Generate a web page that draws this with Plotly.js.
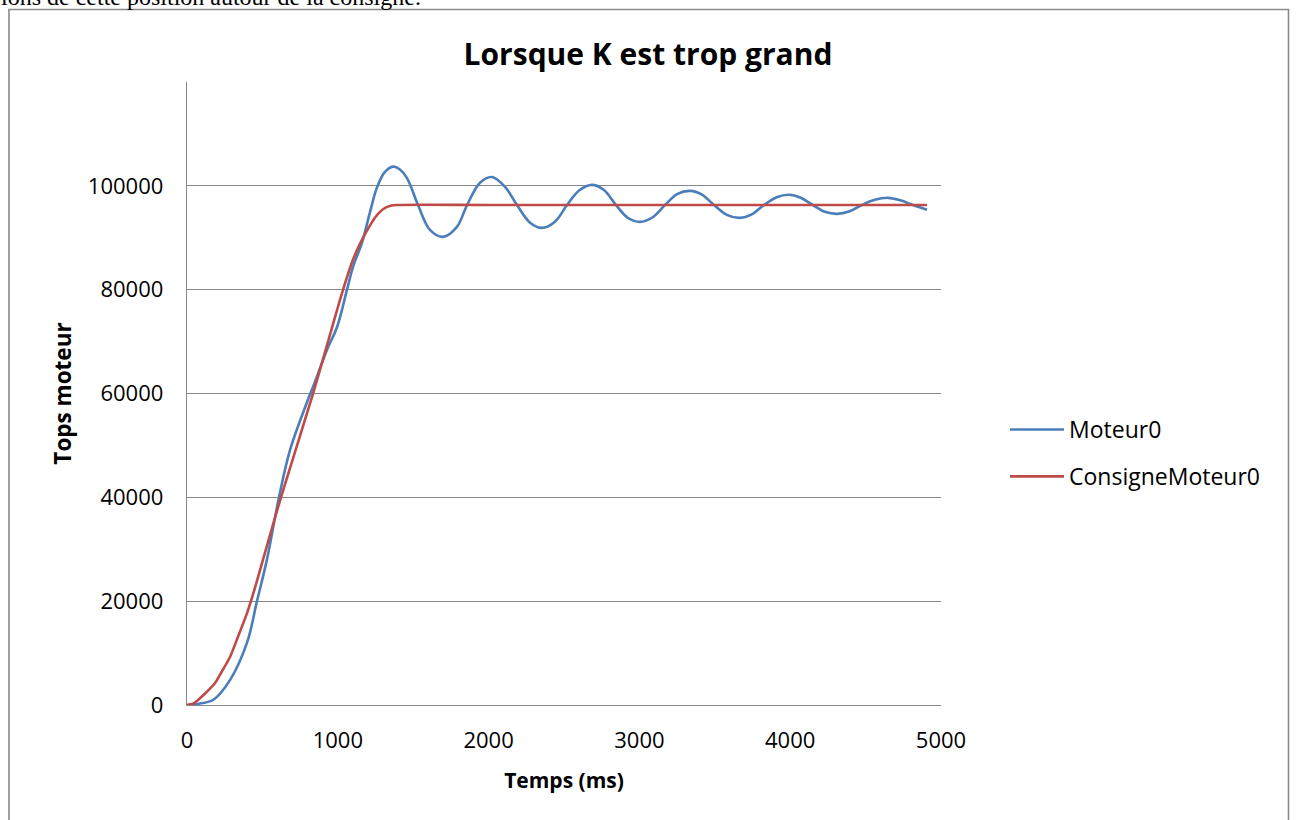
<!DOCTYPE html>
<html>
<head>
<meta charset="utf-8">
<script src="https://cdn.plot.ly/plotly-3.0.1.min.js"></script>
<style>
html,body{margin:0;padding:0;background:#fff;}
#chart{width:1296px;height:820px;}
</style>
</head>
<body>
<div id="chart"></div>
<script>
// Time (ms) and values
var tMoteur = [0, 86, 172, 285, 398, 464, 530, 610, 683, 802, 836, 928, 995, 1061, 1101, 1160, 1214, 1260, 1310, 1366, 1410, 1459, 1532, 1611, 1698, 1790, 1857, 1943, 2022, 2109, 2188, 2275, 2354, 2440, 2520, 2600, 2686, 2765, 2845, 2925, 3004, 3085, 3170, 3250, 3336, 3415, 3495, 3580, 3667, 3745, 3826, 3910, 3992, 4070, 4151, 4230, 4310, 4395, 4476, 4560, 4648, 4730, 4814, 4907];
var yMoteur = [0, 300, 960, 4800, 12000, 20000, 28000, 40000, 49100, 58800, 61300, 68400, 72800, 80000, 84400, 89000, 95000, 99700, 102600, 103700, 103200, 101500, 96300, 91500, 90170, 92100, 96300, 100600, 101700, 99800, 96300, 92900, 91900, 93100, 96300, 99100, 100190, 99200, 96300, 93800, 93060, 93900, 96300, 98400, 99030, 98300, 96300, 94400, 93830, 94500, 96300, 97800, 98270, 97700, 96300, 95000, 94600, 95100, 96300, 97300, 97690, 97200, 96300, 95380];

var tConsigne = [0, 40, 86, 130, 186, 230, 285, 340, 398, 450, 504, 623, 836, 1035, 1100, 1150, 1200, 1250, 1300, 1350, 1400, 2000, 3000, 4000, 4907];
var yConsigne = [0, 250, 1300, 2500, 4240, 6400, 9250, 13300, 17700, 22500, 28000, 40000, 60000, 80000, 85700, 89000, 91700, 94000, 95500, 96150, 96300, 96300, 96300, 96300, 96300];

var xTickVals = [0, 1000, 2000, 3000, 4000, 5000];
var xTickText = ["0", "1000", "2000", "3000", "4000", "5000"];
var yTickVals = [0, 20000, 40000, 60000, 80000, 100000];
var yTickText = ["0", "20000", "40000", "60000", "80000", "100000"];

var names = ["Moteur0", "ConsigneMoteur0"];
var colors = ["#4A7EBB", "#BE4B48"];

var traces = [
  {x: tMoteur, y: yMoteur, name: names[0], type: "scatter", mode: "lines",
   line: {color: colors[0], width: 2.6, shape: "spline", smoothing: 1}, legendgroup: "a"},
  {x: tConsigne, y: yConsigne, name: names[1], type: "scatter", mode: "lines",
   line: {color: colors[1], width: 2.6, shape: "spline", smoothing: 0.8}, legendgroup: "b"}
];

var W = 754, H = 623, L = 187, B = 115, T = 82;
function px2x(px){ return (px - L) / W; }
function py2y(py){ return (705 - py) / H; }

var gridCol = "#878787";
var layout = {
  width: 1296, height: 820,
  margin: {l: L, r: 1296 - L - W, t: T, b: B, pad: 0},
  paper_bgcolor: "#fff", plot_bgcolor: "#fff",
  font: {family: "Open Sans, sans-serif", color: "#000", size: 22},
  title: {text: "Lorsque K est trop grand", x: 0.5, xref: "container", xanchor: "center",
          y: 1 - 54/820, yref: "container", yanchor: "middle",
          font: {family: "Open Sans, sans-serif", size: 30, weight: "bold", color: "#000"}},
  xaxis: {range: [0, 5000], tickmode: "array", tickvals: xTickVals, ticktext: xTickText,
          showgrid: false, zeroline: false, showline: true, linecolor: gridCol, linewidth: 1.3,
          ticks: "", ticklabelstandoff: 15, tickfont: {size: 22},
          title: {text: "Temps (ms)", standoff: 20, font: {size: 21, weight: "bold"}}},
  yaxis: {range: [0, 120000], tickmode: "array", tickvals: yTickVals, ticktext: yTickText,
          showgrid: true, gridcolor: gridCol, gridwidth: 1.3, zeroline: false,
          showline: true, linecolor: gridCol, linewidth: 1.3,
          ticks: "", ticklabelstandoff: 18, tickfont: {size: 22},
          title: {text: "Tops moteur", standoff: 10, font: {size: 22.5, weight: "bold"}}},
  showlegend: true,
  legend: {x: px2x(1005), xanchor: "left", y: py2y(453), yanchor: "middle",
           font: {size: 23}, tracegroupgap: 14, itemwidth: 54, bgcolor: "rgba(0,0,0,0)"},
  shapes: [
    {type: "rect", xref: "paper", yref: "paper",
     x0: px2x(9), x1: px2x(1288.5), y0: py2y(840), y1: py2y(9.5),
     line: {color: "#8a8a8a", width: 1.6}, fillcolor: "rgba(0,0,0,0)", layer: "below"}
  ],
  annotations: [
    {text: "ions de cette position autour de la consigne.", xref: "paper", yref: "paper",
     x: px2x(-1), xanchor: "left", y: py2y(-3), yanchor: "middle", showarrow: false,
     font: {family: "Liberation Serif, serif", size: 24, color: "#000"}}
  ]
};

Plotly.newPlot("chart", traces, layout, {displayModeBar: false, staticPlot: true});
</script>
</body>
</html>
